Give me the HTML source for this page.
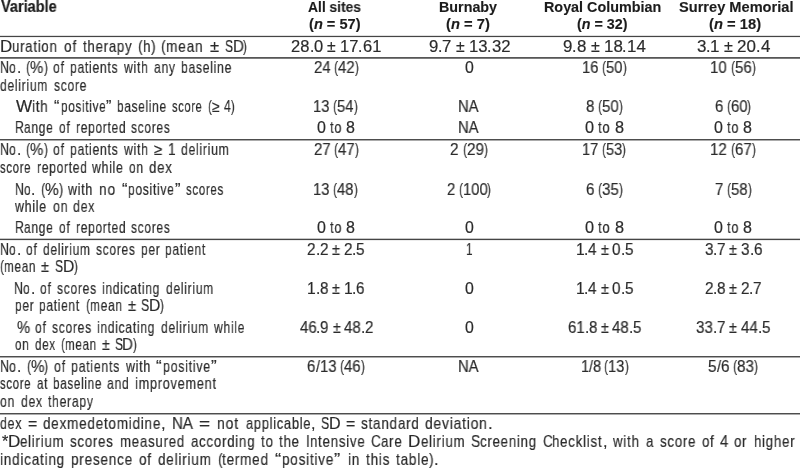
<!DOCTYPE html>
<html lang="en">
<head>
<meta charset="utf-8">
<title>Table</title>
<style>
html,body{margin:0;padding:0;background:#fff;}
body{width:800px;height:468px;position:relative;overflow:hidden;
 font-family:"Liberation Sans",sans-serif;color:#2b2b2b;}
.t{position:absolute;white-space:pre;transform-origin:0 0;line-height:1;will-change:transform;}
.b{font-size:15.7px;-webkit-text-stroke:0.18px #2b2b2b;}
.f{font-size:16.1px;-webkit-text-stroke:0.18px #2b2b2b;}
.h{font-size:13.9px;font-weight:bold;color:#1c1c1c;-webkit-text-stroke:0.12px #1c1c1c;}
.v{font-size:16.0px;font-weight:bold;color:#1c1c1c;-webkit-text-stroke:0.2px #1c1c1c;}
.r{position:absolute;left:0;width:800px;}
</style>
</head>
<body>
<svg class="r" style="top:0;height:468px" width="800" height="468" viewBox="0 0 800 468"><rect x="0" y="35.83" width="800" height="1.25" fill="#454545"/><rect x="0" y="57.10" width="800" height="1.60" fill="#454545"/><rect x="0" y="139.05" width="800" height="1.40" fill="#454545"/><rect x="0" y="238.70" width="800" height="1.40" fill="#454545"/><rect x="0" y="356.05" width="800" height="1.40" fill="#454545"/><rect x="0" y="413.05" width="800" height="1.40" fill="#454545"/></svg>
<span class="t v" style="left:0.65px;top:-0.94px;transform:scaleX(0.9071)">Variable</span>
<span class="t h" style="left:308.47px;top:0.83px;transform:scaleX(0.9937)">All sites</span>
<span class="t h" style="left:309.16px;top:18.13px;transform:scaleX(1.0513)">(<i>n</i> = 57)</span>
<span class="t h" style="left:439.30px;top:0.83px;transform:scaleX(1.0306)">Burnaby</span>
<span class="t h" style="left:446.39px;top:18.13px;transform:scaleX(1.0610)">(<i>n</i> = 7)</span>
<span class="t h" style="left:543.80px;top:0.83px;transform:scaleX(1.0331)">Royal Columbian</span>
<span class="t h" style="left:577.19px;top:18.13px;transform:scaleX(1.0303)">(<i>n</i> = 32)</span>
<span class="t h" style="left:678.75px;top:0.83px;transform:scaleX(1.0516)">Surrey Memorial</span>
<span class="t h" style="left:709.16px;top:18.13px;transform:scaleX(1.0618)">(<i>n</i> = 18)</span>
<span class="t b" style="left:-0.03px;top:38.51px;transform:scaleX(1.0810)">D</span>
<span class="t b" style="left:12.23px;top:38.51px;letter-spacing:0.92px;transform:scaleX(0.8383)">uration</span>
<span class="t b" style="left:63.67px;top:38.51px;letter-spacing:0.92px;transform:scaleX(0.8685)">of</span>
<span class="t b" style="left:82.67px;top:38.51px;letter-spacing:0.92px;transform:scaleX(0.8415)">therapy</span>
<span class="t b" style="left:137.97px;top:38.51px;transform:scaleX(0.8753)">(</span>
<span class="t b" style="left:142.55px;top:38.51px;letter-spacing:0.92px;transform:scaleX(0.8639)">h</span>
<span class="t b" style="left:150.89px;top:38.51px;transform:scaleX(0.8753)">)</span>
<span class="t b" style="left:161.47px;top:38.51px;transform:scaleX(0.8832)">(</span>
<span class="t b" style="left:166.09px;top:38.51px;letter-spacing:0.92px;transform:scaleX(0.8717)">mean</span>
<span class="t b" style="left:209.57px;top:38.51px;transform:scaleX(1.0562)">±</span>
<span class="t b" style="left:224.67px;top:38.51px;transform:scaleX(0.7611)">S</span>
<span class="t b" style="left:232.64px;top:38.51px;transform:scaleX(0.9562)">D</span>
<span class="t b" style="left:243.49px;top:38.51px;transform:scaleX(0.7513)">)</span>
<span class="t b" style="left:0.19px;top:60.41px;transform:scaleX(0.7962)">N</span>
<span class="t b" style="left:9.22px;top:60.41px;letter-spacing:0.92px;transform:scaleX(0.7758)">o</span>
<span class="t b" style="left:16.71px;top:60.41px;transform:scaleX(0.9494)">.</span>
<span class="t b" style="left:26.23px;top:60.41px;transform:scaleX(0.7860)">(</span>
<span class="t b" style="left:30.35px;top:60.41px;transform:scaleX(0.9494)">%</span>
<span class="t b" style="left:43.59px;top:60.41px;transform:scaleX(0.7860)">)</span>
<span class="t b" style="left:53.09px;top:60.41px;letter-spacing:0.92px;transform:scaleX(0.7758)">of</span>
<span class="t b" style="left:70.07px;top:60.41px;letter-spacing:0.92px;transform:scaleX(0.7758)">patients</span>
<span class="t b" style="left:123.80px;top:60.41px;letter-spacing:0.92px;transform:scaleX(0.7758)">with</span>
<span class="t b" style="left:153.69px;top:60.41px;letter-spacing:0.92px;transform:scaleX(0.7758)">any</span>
<span class="t b" style="left:180.85px;top:60.41px;letter-spacing:0.92px;transform:scaleX(0.7758)">baseline</span>
<span class="t b" style="left:0.37px;top:77.71px;letter-spacing:0.92px;transform:scaleX(0.7713)">delirium</span>
<span class="t b" style="left:53.76px;top:77.71px;letter-spacing:0.92px;transform:scaleX(0.7713)">score</span>
<span class="t b" style="left:15.83px;top:98.51px;transform:scaleX(1.0911)">W</span>
<span class="t b" style="left:31.99px;top:98.51px;letter-spacing:0.92px;transform:scaleX(0.8461)">ith</span>
<span class="t b" style="left:54.23px;top:98.51px;letter-spacing:0.86px;transform:scaleX(1.0336)">“</span>
<span class="t b" style="left:60.52px;top:98.51px;letter-spacing:0.92px;transform:scaleX(0.7481)">positive</span>
<span class="t b" style="left:105.84px;top:98.51px;letter-spacing:0.86px;transform:scaleX(1.0336)">”</span>
<span class="t b" style="left:117.33px;top:98.51px;letter-spacing:0.92px;transform:scaleX(0.7561)">baseline</span>
<span class="t b" style="left:172.33px;top:98.51px;letter-spacing:0.92px;transform:scaleX(0.7091)">score</span>
<span class="t b" style="left:207.73px;top:98.51px;transform:scaleX(0.7333)">(</span>
<span class="t b" style="left:211.56px;top:98.51px;transform:scaleX(0.8856)">≥</span>
<span class="t b" style="left:224.23px;top:98.51px;transform:scaleX(0.7775)">4</span>
<span class="t b" style="left:231.02px;top:98.51px;transform:scaleX(0.6985)">)</span>
<span class="t b" style="left:15.18px;top:120.01px;transform:scaleX(0.7838)">R</span>
<span class="t b" style="left:24.08px;top:120.01px;letter-spacing:0.92px;transform:scaleX(0.7637)">ange</span>
<span class="t b" style="left:58.85px;top:120.01px;letter-spacing:0.92px;transform:scaleX(0.7637)">of</span>
<span class="t b" style="left:75.56px;top:120.01px;letter-spacing:0.92px;transform:scaleX(0.7637)">reported</span>
<span class="t b" style="left:131.12px;top:120.01px;letter-spacing:0.92px;transform:scaleX(0.7637)">scores</span>
<span class="t b" style="left:0.19px;top:142.41px;transform:scaleX(0.7983)">N</span>
<span class="t b" style="left:9.24px;top:142.41px;letter-spacing:0.92px;transform:scaleX(0.7778)">o</span>
<span class="t b" style="left:16.75px;top:142.41px;transform:scaleX(0.9518)">.</span>
<span class="t b" style="left:26.30px;top:142.41px;transform:scaleX(0.7880)">(</span>
<span class="t b" style="left:30.42px;top:142.41px;transform:scaleX(0.9518)">%</span>
<span class="t b" style="left:43.70px;top:142.41px;transform:scaleX(0.7880)">)</span>
<span class="t b" style="left:53.23px;top:142.41px;letter-spacing:0.92px;transform:scaleX(0.7778)">of</span>
<span class="t b" style="left:70.24px;top:142.41px;letter-spacing:0.92px;transform:scaleX(0.7778)">patients</span>
<span class="t b" style="left:124.11px;top:142.41px;letter-spacing:0.92px;transform:scaleX(0.7778)">with</span>
<span class="t b" style="left:154.08px;top:142.41px;transform:scaleX(0.9518)">≥</span>
<span class="t b" style="left:167.69px;top:142.41px;transform:scaleX(0.8771)">1</span>
<span class="t b" style="left:180.75px;top:142.41px;letter-spacing:0.92px;transform:scaleX(0.7778)">delirium</span>
<span class="t b" style="left:0.32px;top:159.61px;letter-spacing:0.92px;transform:scaleX(0.7251)">score</span>
<span class="t b" style="left:36.52px;top:159.61px;letter-spacing:0.92px;transform:scaleX(0.7684)">reported</span>
<span class="t b" style="left:92.42px;top:159.61px;letter-spacing:0.92px;transform:scaleX(0.7802)">while</span>
<span class="t b" style="left:129.32px;top:159.61px;letter-spacing:0.92px;transform:scaleX(0.7623)">on</span>
<span class="t b" style="left:149.32px;top:159.61px;letter-spacing:0.92px;transform:scaleX(0.8434)">dex</span>
<span class="t b" style="left:14.95px;top:181.81px;transform:scaleX(0.7826)">N</span>
<span class="t b" style="left:23.83px;top:181.81px;letter-spacing:0.92px;transform:scaleX(0.7625)">o</span>
<span class="t b" style="left:31.19px;top:181.81px;transform:scaleX(0.9331)">.</span>
<span class="t b" style="left:40.55px;top:181.81px;transform:scaleX(0.8135)">(</span>
<span class="t b" style="left:44.81px;top:181.81px;transform:scaleX(0.9826)">%</span>
<span class="t b" style="left:58.52px;top:181.81px;transform:scaleX(0.8135)">)</span>
<span class="t b" style="left:68.35px;top:181.81px;letter-spacing:0.92px;transform:scaleX(0.7890)">with</span>
<span class="t b" style="left:98.75px;top:181.81px;letter-spacing:0.92px;transform:scaleX(0.8729)">no</span>
<span class="t b" style="left:121.65px;top:181.81px;letter-spacing:0.86px;transform:scaleX(1.0598)">“</span>
<span class="t b" style="left:128.11px;top:181.81px;letter-spacing:0.92px;transform:scaleX(0.7671)">positive</span>
<span class="t b" style="left:174.57px;top:181.81px;letter-spacing:0.86px;transform:scaleX(1.0598)">”</span>
<span class="t b" style="left:186.35px;top:181.81px;letter-spacing:0.92px;transform:scaleX(0.7324)">scores</span>
<span class="t b" style="left:15.40px;top:198.91px;letter-spacing:0.92px;transform:scaleX(0.7882)">while</span>
<span class="t b" style="left:52.67px;top:198.91px;letter-spacing:0.92px;transform:scaleX(0.7882)">on</span>
<span class="t b" style="left:73.35px;top:198.91px;letter-spacing:0.92px;transform:scaleX(0.7882)">dex</span>
<span class="t b" style="left:15.18px;top:220.31px;transform:scaleX(0.7838)">R</span>
<span class="t b" style="left:24.08px;top:220.31px;letter-spacing:0.92px;transform:scaleX(0.7637)">ange</span>
<span class="t b" style="left:58.85px;top:220.31px;letter-spacing:0.92px;transform:scaleX(0.7637)">of</span>
<span class="t b" style="left:75.56px;top:220.31px;letter-spacing:0.92px;transform:scaleX(0.7637)">reported</span>
<span class="t b" style="left:131.12px;top:220.31px;letter-spacing:0.92px;transform:scaleX(0.7637)">scores</span>
<span class="t b" style="left:0.19px;top:242.01px;transform:scaleX(0.7859)">N</span>
<span class="t b" style="left:9.11px;top:242.01px;letter-spacing:0.92px;transform:scaleX(0.7657)">o</span>
<span class="t b" style="left:16.50px;top:242.01px;transform:scaleX(0.9370)">.</span>
<span class="t b" style="left:25.90px;top:242.01px;letter-spacing:0.92px;transform:scaleX(0.7657)">of</span>
<span class="t b" style="left:42.65px;top:242.01px;letter-spacing:0.92px;transform:scaleX(0.7657)">delirium</span>
<span class="t b" style="left:95.66px;top:242.01px;letter-spacing:0.92px;transform:scaleX(0.7657)">scores</span>
<span class="t b" style="left:140.60px;top:242.01px;letter-spacing:0.92px;transform:scaleX(0.7657)">per</span>
<span class="t b" style="left:165.40px;top:242.01px;letter-spacing:0.92px;transform:scaleX(0.7657)">patient</span>
<span class="t b" style="left:0.05px;top:259.31px;transform:scaleX(0.7592)">(</span>
<span class="t b" style="left:4.03px;top:259.31px;letter-spacing:0.92px;transform:scaleX(0.7494)">mean</span>
<span class="t b" style="left:41.40px;top:259.31px;transform:scaleX(0.9170)">±</span>
<span class="t b" style="left:54.51px;top:259.31px;transform:scaleX(0.7691)">S</span>
<span class="t b" style="left:62.57px;top:259.31px;transform:scaleX(0.9663)">D</span>
<span class="t b" style="left:73.53px;top:259.31px;transform:scaleX(0.7592)">)</span>
<span class="t b" style="left:14.45px;top:280.71px;transform:scaleX(0.7900)">N</span>
<span class="t b" style="left:23.42px;top:280.71px;letter-spacing:0.92px;transform:scaleX(0.7697)">o</span>
<span class="t b" style="left:30.85px;top:280.71px;transform:scaleX(0.9419)">.</span>
<span class="t b" style="left:40.30px;top:280.71px;letter-spacing:0.92px;transform:scaleX(0.7697)">of</span>
<span class="t b" style="left:57.14px;top:280.71px;letter-spacing:0.92px;transform:scaleX(0.7697)">scores</span>
<span class="t b" style="left:102.31px;top:280.71px;letter-spacing:0.92px;transform:scaleX(0.7697)">indicating</span>
<span class="t b" style="left:165.76px;top:280.71px;letter-spacing:0.92px;transform:scaleX(0.7697)">delirium</span>
<span class="t b" style="left:14.57px;top:298.21px;letter-spacing:0.92px;transform:scaleX(0.7635)">per</span>
<span class="t b" style="left:39.30px;top:298.21px;letter-spacing:0.92px;transform:scaleX(0.7635)">patient</span>
<span class="t b" style="left:85.50px;top:298.21px;transform:scaleX(0.7736)">(</span>
<span class="t b" style="left:89.55px;top:298.21px;letter-spacing:0.92px;transform:scaleX(0.7635)">mean</span>
<span class="t b" style="left:127.63px;top:298.21px;transform:scaleX(0.9343)">±</span>
<span class="t b" style="left:140.98px;top:298.21px;transform:scaleX(0.7836)">S</span>
<span class="t b" style="left:149.19px;top:298.21px;transform:scaleX(0.9846)">D</span>
<span class="t b" style="left:160.36px;top:298.21px;transform:scaleX(0.7736)">)</span>
<span class="t b" style="left:16.58px;top:319.51px;transform:scaleX(0.9430)">%</span>
<span class="t b" style="left:35.09px;top:319.51px;letter-spacing:0.92px;transform:scaleX(0.7706)">of</span>
<span class="t b" style="left:51.95px;top:319.51px;letter-spacing:0.92px;transform:scaleX(0.7706)">scores</span>
<span class="t b" style="left:97.17px;top:319.51px;letter-spacing:0.92px;transform:scaleX(0.7706)">indicating</span>
<span class="t b" style="left:160.70px;top:319.51px;letter-spacing:0.92px;transform:scaleX(0.7706)">delirium</span>
<span class="t b" style="left:214.05px;top:319.51px;letter-spacing:0.92px;transform:scaleX(0.7706)">while</span>
<span class="t b" style="left:15.32px;top:336.81px;letter-spacing:0.92px;transform:scaleX(0.7406)">on</span>
<span class="t b" style="left:34.75px;top:336.81px;letter-spacing:0.92px;transform:scaleX(0.7406)">dex</span>
<span class="t b" style="left:60.68px;top:336.81px;transform:scaleX(0.7504)">(</span>
<span class="t b" style="left:64.60px;top:336.81px;letter-spacing:0.92px;transform:scaleX(0.7406)">mean</span>
<span class="t b" style="left:101.54px;top:336.81px;transform:scaleX(0.9063)">±</span>
<span class="t b" style="left:114.50px;top:336.81px;transform:scaleX(0.7601)">S</span>
<span class="t b" style="left:122.46px;top:336.81px;transform:scaleX(0.9550)">D</span>
<span class="t b" style="left:133.29px;top:336.81px;transform:scaleX(0.7504)">)</span>
<span class="t b" style="left:0.18px;top:358.81px;transform:scaleX(0.8091)">N</span>
<span class="t b" style="left:9.36px;top:358.81px;letter-spacing:0.92px;transform:scaleX(0.7884)">o</span>
<span class="t b" style="left:16.97px;top:358.81px;transform:scaleX(0.9647)">.</span>
<span class="t b" style="left:26.65px;top:358.81px;transform:scaleX(0.7987)">(</span>
<span class="t b" style="left:30.83px;top:358.81px;transform:scaleX(0.9647)">%</span>
<span class="t b" style="left:44.29px;top:358.81px;transform:scaleX(0.7987)">)</span>
<span class="t b" style="left:53.94px;top:358.81px;letter-spacing:0.92px;transform:scaleX(0.7884)">of</span>
<span class="t b" style="left:71.19px;top:358.81px;letter-spacing:0.92px;transform:scaleX(0.7884)">patients</span>
<span class="t b" style="left:125.79px;top:358.81px;letter-spacing:0.92px;transform:scaleX(0.7884)">with</span>
<span class="t b" style="left:156.17px;top:358.81px;letter-spacing:0.86px;transform:scaleX(1.0892)">“</span>
<span class="t b" style="left:162.80px;top:358.81px;letter-spacing:0.92px;transform:scaleX(0.7884)">positive</span>
<span class="t b" style="left:210.56px;top:358.81px;letter-spacing:0.86px;transform:scaleX(1.0892)">”</span>
<span class="t b" style="left:0.32px;top:376.41px;letter-spacing:0.92px;transform:scaleX(0.7261)">score</span>
<span class="t b" style="left:36.57px;top:376.41px;letter-spacing:0.92px;transform:scaleX(0.7405)">at</span>
<span class="t b" style="left:52.77px;top:376.41px;letter-spacing:0.92px;transform:scaleX(0.7451)">baseline</span>
<span class="t b" style="left:106.97px;top:376.41px;letter-spacing:0.92px;transform:scaleX(0.7787)">and</span>
<span class="t b" style="left:134.92px;top:376.41px;letter-spacing:0.92px;transform:scaleX(0.8113)">improvement</span>
<span class="t b" style="left:0.36px;top:394.11px;letter-spacing:0.92px;transform:scaleX(0.7774)">on</span>
<span class="t b" style="left:20.76px;top:394.11px;letter-spacing:0.92px;transform:scaleX(0.7774)">dex</span>
<span class="t b" style="left:47.97px;top:394.11px;letter-spacing:0.92px;transform:scaleX(0.7774)">therapy</span>
<span class="t b" style="left:291.34px;top:38.51px;transform:scaleX(1.0521)">28</span>
<span class="t b" style="left:309.70px;top:38.51px;transform:scaleX(0.9967)">.</span>
<span class="t b" style="left:314.05px;top:38.51px;transform:scaleX(1.0521)">0</span>
<span class="t b" style="left:327.34px;top:38.51px;transform:scaleX(0.9967)">±</span>
<span class="t b" style="left:340.04px;top:38.51px;transform:scaleX(1.0521)">17</span>
<span class="t b" style="left:358.40px;top:38.51px;transform:scaleX(0.9967)">.</span>
<span class="t b" style="left:362.75px;top:38.51px;transform:scaleX(1.0521)">61</span>
<span class="t b" style="left:428.67px;top:38.51px;transform:scaleX(1.0674)">9</span>
<span class="t b" style="left:437.99px;top:38.51px;transform:scaleX(1.0112)">.</span>
<span class="t b" style="left:442.40px;top:38.51px;transform:scaleX(1.0674)">7</span>
<span class="t b" style="left:455.88px;top:38.51px;transform:scaleX(1.0112)">±</span>
<span class="t b" style="left:468.77px;top:38.51px;transform:scaleX(1.0674)">13</span>
<span class="t b" style="left:487.40px;top:38.51px;transform:scaleX(1.0112)">.</span>
<span class="t b" style="left:491.81px;top:38.51px;transform:scaleX(1.0674)">32</span>
<span class="t b" style="left:563.09px;top:38.51px;transform:scaleX(1.0757)">9</span>
<span class="t b" style="left:572.49px;top:38.51px;transform:scaleX(1.0191)">.</span>
<span class="t b" style="left:576.93px;top:38.51px;transform:scaleX(1.0757)">8</span>
<span class="t b" style="left:590.52px;top:38.51px;transform:scaleX(1.0191)">±</span>
<span class="t b" style="left:603.51px;top:38.51px;transform:scaleX(1.0757)">18</span>
<span class="t b" style="left:622.28px;top:38.51px;transform:scaleX(1.0191)">.</span>
<span class="t b" style="left:626.72px;top:38.51px;transform:scaleX(1.0757)">14</span>
<span class="t b" style="left:696.56px;top:38.51px;transform:scaleX(1.0832)">3</span>
<span class="t b" style="left:706.02px;top:38.51px;transform:scaleX(1.0262)">.</span>
<span class="t b" style="left:710.49px;top:38.51px;transform:scaleX(1.0832)">1</span>
<span class="t b" style="left:724.18px;top:38.51px;transform:scaleX(1.0262)">±</span>
<span class="t b" style="left:737.25px;top:38.51px;transform:scaleX(1.0832)">20</span>
<span class="t b" style="left:756.16px;top:38.51px;transform:scaleX(1.0262)">.</span>
<span class="t b" style="left:760.63px;top:38.51px;transform:scaleX(1.0832)">4</span>
<span class="t b" style="left:313.51px;top:60.41px;transform:scaleX(0.9529)">24</span>
<span class="t b" style="left:333.86px;top:60.41px;transform:scaleX(0.7724)">(</span>
<span class="t b" style="left:337.90px;top:60.41px;transform:scaleX(0.9529)">42</span>
<span class="t b" style="left:354.54px;top:60.41px;transform:scaleX(0.7724)">)</span>
<span class="t b" style="left:465.03px;top:60.41px;transform:scaleX(1.0116)">0</span>
<span class="t b" style="left:582.19px;top:60.41px;transform:scaleX(0.9425)">16</span>
<span class="t b" style="left:602.31px;top:60.41px;transform:scaleX(0.7639)">(</span>
<span class="t b" style="left:606.31px;top:60.41px;transform:scaleX(0.9425)">50</span>
<span class="t b" style="left:622.76px;top:60.41px;transform:scaleX(0.7639)">)</span>
<span class="t b" style="left:710.47px;top:60.41px;transform:scaleX(0.9581)">10</span>
<span class="t b" style="left:730.93px;top:60.41px;transform:scaleX(0.7765)">(</span>
<span class="t b" style="left:734.99px;top:60.41px;transform:scaleX(0.9581)">56</span>
<span class="t b" style="left:751.71px;top:60.41px;transform:scaleX(0.7765)">)</span>
<span class="t b" style="left:313.23px;top:98.51px;transform:scaleX(0.9422)">13</span>
<span class="t b" style="left:333.35px;top:98.51px;transform:scaleX(0.7637)">(</span>
<span class="t b" style="left:337.34px;top:98.51px;transform:scaleX(0.9422)">54</span>
<span class="t b" style="left:353.79px;top:98.51px;transform:scaleX(0.7637)">)</span>
<span class="t b" style="left:458.46px;top:98.51px;transform:scaleX(0.9445)">NA</span>
<span class="t b" style="left:585.96px;top:98.51px;transform:scaleX(0.9592)">8</span>
<span class="t b" style="left:598.08px;top:98.51px;transform:scaleX(0.7774)">(</span>
<span class="t b" style="left:602.14px;top:98.51px;transform:scaleX(0.9592)">50</span>
<span class="t b" style="left:618.89px;top:98.51px;transform:scaleX(0.7774)">)</span>
<span class="t b" style="left:714.72px;top:98.51px;transform:scaleX(0.9504)">6</span>
<span class="t b" style="left:726.73px;top:98.51px;transform:scaleX(0.7703)">(</span>
<span class="t b" style="left:730.76px;top:98.51px;transform:scaleX(0.9504)">60</span>
<span class="t b" style="left:747.35px;top:98.51px;transform:scaleX(0.7703)">)</span>
<span class="t b" style="left:317.27px;top:120.01px;transform:scaleX(1.0202)">0</span>
<span class="t b" style="left:330.16px;top:120.01px;letter-spacing:0.92px;transform:scaleX(0.8162)">to</span>
<span class="t b" style="left:346.33px;top:120.01px;transform:scaleX(1.0202)">8</span>
<span class="t b" style="left:458.46px;top:120.01px;transform:scaleX(0.9445)">NA</span>
<span class="t b" style="left:585.30px;top:120.01px;transform:scaleX(1.0383)">0</span>
<span class="t b" style="left:598.42px;top:120.01px;letter-spacing:0.92px;transform:scaleX(0.8306)">to</span>
<span class="t b" style="left:614.87px;top:120.01px;transform:scaleX(1.0383)">8</span>
<span class="t b" style="left:714.28px;top:120.01px;transform:scaleX(1.0191)">0</span>
<span class="t b" style="left:727.15px;top:120.01px;letter-spacing:0.92px;transform:scaleX(0.8153)">to</span>
<span class="t b" style="left:743.30px;top:120.01px;transform:scaleX(1.0191)">8</span>
<span class="t b" style="left:313.51px;top:142.41px;transform:scaleX(0.9529)">27</span>
<span class="t b" style="left:333.86px;top:142.41px;transform:scaleX(0.7724)">(</span>
<span class="t b" style="left:337.90px;top:142.41px;transform:scaleX(0.9529)">47</span>
<span class="t b" style="left:354.54px;top:142.41px;transform:scaleX(0.7724)">)</span>
<span class="t b" style="left:450.39px;top:142.41px;transform:scaleX(0.9725)">2</span>
<span class="t b" style="left:462.68px;top:142.41px;transform:scaleX(0.7882)">(</span>
<span class="t b" style="left:466.81px;top:142.41px;transform:scaleX(0.9725)">29</span>
<span class="t b" style="left:483.78px;top:142.41px;transform:scaleX(0.7882)">)</span>
<span class="t b" style="left:582.34px;top:142.41px;transform:scaleX(0.9266)">17</span>
<span class="t b" style="left:602.12px;top:142.41px;transform:scaleX(0.7510)">(</span>
<span class="t b" style="left:606.05px;top:142.41px;transform:scaleX(0.9266)">53</span>
<span class="t b" style="left:622.22px;top:142.41px;transform:scaleX(0.7510)">)</span>
<span class="t b" style="left:710.47px;top:142.41px;transform:scaleX(0.9581)">12</span>
<span class="t b" style="left:730.93px;top:142.41px;transform:scaleX(0.7765)">(</span>
<span class="t b" style="left:734.99px;top:142.41px;transform:scaleX(0.9581)">67</span>
<span class="t b" style="left:751.71px;top:142.41px;transform:scaleX(0.7765)">)</span>
<span class="t b" style="left:313.23px;top:181.81px;transform:scaleX(0.9422)">13</span>
<span class="t b" style="left:333.35px;top:181.81px;transform:scaleX(0.7637)">(</span>
<span class="t b" style="left:337.34px;top:181.81px;transform:scaleX(0.9422)">48</span>
<span class="t b" style="left:353.79px;top:181.81px;transform:scaleX(0.7637)">)</span>
<span class="t b" style="left:446.87px;top:181.81px;transform:scaleX(0.9425)">2</span>
<span class="t b" style="left:458.78px;top:181.81px;transform:scaleX(0.7639)">(</span>
<span class="t b" style="left:462.78px;top:181.81px;transform:scaleX(0.9425)">100</span>
<span class="t b" style="left:487.46px;top:181.81px;transform:scaleX(0.7639)">)</span>
<span class="t b" style="left:585.84px;top:181.81px;transform:scaleX(0.9623)">6</span>
<span class="t b" style="left:598.00px;top:181.81px;transform:scaleX(0.7799)">(</span>
<span class="t b" style="left:602.08px;top:181.81px;transform:scaleX(0.9623)">35</span>
<span class="t b" style="left:618.88px;top:181.81px;transform:scaleX(0.7799)">)</span>
<span class="t b" style="left:715.11px;top:181.81px;transform:scaleX(0.9495)">7</span>
<span class="t b" style="left:727.11px;top:181.81px;transform:scaleX(0.7696)">(</span>
<span class="t b" style="left:731.14px;top:181.81px;transform:scaleX(0.9495)">58</span>
<span class="t b" style="left:747.71px;top:181.81px;transform:scaleX(0.7696)">)</span>
<span class="t b" style="left:317.27px;top:220.31px;transform:scaleX(1.0202)">0</span>
<span class="t b" style="left:330.16px;top:220.31px;letter-spacing:0.92px;transform:scaleX(0.8162)">to</span>
<span class="t b" style="left:346.33px;top:220.31px;transform:scaleX(1.0202)">8</span>
<span class="t b" style="left:465.03px;top:220.31px;transform:scaleX(1.0116)">0</span>
<span class="t b" style="left:585.30px;top:220.31px;transform:scaleX(1.0383)">0</span>
<span class="t b" style="left:598.42px;top:220.31px;letter-spacing:0.92px;transform:scaleX(0.8306)">to</span>
<span class="t b" style="left:614.87px;top:220.31px;transform:scaleX(1.0383)">8</span>
<span class="t b" style="left:714.28px;top:220.31px;transform:scaleX(1.0191)">0</span>
<span class="t b" style="left:727.15px;top:220.31px;letter-spacing:0.92px;transform:scaleX(0.8153)">to</span>
<span class="t b" style="left:743.30px;top:220.31px;transform:scaleX(1.0191)">8</span>
<span class="t b" style="left:307.25px;top:242.01px;transform:scaleX(0.9737)">2</span>
<span class="t b" style="left:315.76px;top:242.01px;transform:scaleX(0.9225)">.</span>
<span class="t b" style="left:319.78px;top:242.01px;transform:scaleX(0.9737)">2</span>
<span class="t b" style="left:332.08px;top:242.01px;transform:scaleX(0.9225)">±</span>
<span class="t b" style="left:343.84px;top:242.01px;transform:scaleX(0.9737)">2</span>
<span class="t b" style="left:352.34px;top:242.01px;transform:scaleX(0.9225)">.</span>
<span class="t b" style="left:356.36px;top:242.01px;transform:scaleX(0.9737)">5</span>
<span class="t b" style="left:465.58px;top:242.01px;transform:scaleX(0.7280)">1</span>
<span class="t b" style="left:575.81px;top:242.01px;transform:scaleX(0.9711)">1</span>
<span class="t b" style="left:584.30px;top:242.01px;transform:scaleX(0.9200)">.</span>
<span class="t b" style="left:588.31px;top:242.01px;transform:scaleX(0.9711)">4</span>
<span class="t b" style="left:600.58px;top:242.01px;transform:scaleX(0.9200)">±</span>
<span class="t b" style="left:612.30px;top:242.01px;transform:scaleX(0.9711)">0</span>
<span class="t b" style="left:620.78px;top:242.01px;transform:scaleX(0.9200)">.</span>
<span class="t b" style="left:624.79px;top:242.01px;transform:scaleX(0.9711)">5</span>
<span class="t b" style="left:704.70px;top:242.01px;transform:scaleX(0.9709)">3</span>
<span class="t b" style="left:713.18px;top:242.01px;transform:scaleX(0.9198)">.</span>
<span class="t b" style="left:717.19px;top:242.01px;transform:scaleX(0.9709)">7</span>
<span class="t b" style="left:729.45px;top:242.01px;transform:scaleX(0.9198)">±</span>
<span class="t b" style="left:741.17px;top:242.01px;transform:scaleX(0.9709)">3</span>
<span class="t b" style="left:749.65px;top:242.01px;transform:scaleX(0.9198)">.</span>
<span class="t b" style="left:753.66px;top:242.01px;transform:scaleX(0.9709)">6</span>
<span class="t b" style="left:307.31px;top:280.71px;transform:scaleX(0.9654)">1</span>
<span class="t b" style="left:315.75px;top:280.71px;transform:scaleX(0.9146)">.</span>
<span class="t b" style="left:319.73px;top:280.71px;transform:scaleX(0.9654)">8</span>
<span class="t b" style="left:331.93px;top:280.71px;transform:scaleX(0.9146)">±</span>
<span class="t b" style="left:343.58px;top:280.71px;transform:scaleX(0.9654)">1</span>
<span class="t b" style="left:352.02px;top:280.71px;transform:scaleX(0.9146)">.</span>
<span class="t b" style="left:356.00px;top:280.71px;transform:scaleX(0.9654)">6</span>
<span class="t b" style="left:465.03px;top:280.71px;transform:scaleX(1.0116)">0</span>
<span class="t b" style="left:575.81px;top:280.71px;transform:scaleX(0.9711)">1</span>
<span class="t b" style="left:584.30px;top:280.71px;transform:scaleX(0.9200)">.</span>
<span class="t b" style="left:588.31px;top:280.71px;transform:scaleX(0.9711)">4</span>
<span class="t b" style="left:600.58px;top:280.71px;transform:scaleX(0.9200)">±</span>
<span class="t b" style="left:612.30px;top:280.71px;transform:scaleX(0.9711)">0</span>
<span class="t b" style="left:620.78px;top:280.71px;transform:scaleX(0.9200)">.</span>
<span class="t b" style="left:624.79px;top:280.71px;transform:scaleX(0.9711)">5</span>
<span class="t b" style="left:704.51px;top:280.71px;transform:scaleX(0.9685)">2</span>
<span class="t b" style="left:712.97px;top:280.71px;transform:scaleX(0.9175)">.</span>
<span class="t b" style="left:716.97px;top:280.71px;transform:scaleX(0.9685)">8</span>
<span class="t b" style="left:729.21px;top:280.71px;transform:scaleX(0.9175)">±</span>
<span class="t b" style="left:740.90px;top:280.71px;transform:scaleX(0.9685)">2</span>
<span class="t b" style="left:749.36px;top:280.71px;transform:scaleX(0.9175)">.</span>
<span class="t b" style="left:753.36px;top:280.71px;transform:scaleX(0.9685)">7</span>
<span class="t b" style="left:299.77px;top:319.51px;transform:scaleX(0.9568)">46</span>
<span class="t b" style="left:316.47px;top:319.51px;transform:scaleX(0.9065)">.</span>
<span class="t b" style="left:320.42px;top:319.51px;transform:scaleX(0.9568)">9</span>
<span class="t b" style="left:332.51px;top:319.51px;transform:scaleX(0.9065)">±</span>
<span class="t b" style="left:344.06px;top:319.51px;transform:scaleX(0.9568)">48</span>
<span class="t b" style="left:360.76px;top:319.51px;transform:scaleX(0.9065)">.</span>
<span class="t b" style="left:364.71px;top:319.51px;transform:scaleX(0.9568)">2</span>
<span class="t b" style="left:465.03px;top:319.51px;transform:scaleX(1.0116)">0</span>
<span class="t b" style="left:567.94px;top:319.51px;transform:scaleX(0.9544)">61</span>
<span class="t b" style="left:584.60px;top:319.51px;transform:scaleX(0.9042)">.</span>
<span class="t b" style="left:588.54px;top:319.51px;transform:scaleX(0.9544)">8</span>
<span class="t b" style="left:600.60px;top:319.51px;transform:scaleX(0.9042)">±</span>
<span class="t b" style="left:612.12px;top:319.51px;transform:scaleX(0.9544)">48</span>
<span class="t b" style="left:628.78px;top:319.51px;transform:scaleX(0.9042)">.</span>
<span class="t b" style="left:632.72px;top:319.51px;transform:scaleX(0.9544)">5</span>
<span class="t b" style="left:696.24px;top:319.51px;transform:scaleX(0.9630)">33</span>
<span class="t b" style="left:713.05px;top:319.51px;transform:scaleX(0.9123)">.</span>
<span class="t b" style="left:717.02px;top:319.51px;transform:scaleX(0.9630)">7</span>
<span class="t b" style="left:729.19px;top:319.51px;transform:scaleX(0.9123)">±</span>
<span class="t b" style="left:740.82px;top:319.51px;transform:scaleX(0.9630)">44</span>
<span class="t b" style="left:757.62px;top:319.51px;transform:scaleX(0.9123)">.</span>
<span class="t b" style="left:761.60px;top:319.51px;transform:scaleX(0.9630)">5</span>
<span class="t b" style="left:307.44px;top:358.81px;transform:scaleX(0.9493)">6</span>
<span class="t b" style="left:315.74px;top:358.81px;transform:scaleX(0.8994)">/</span>
<span class="t b" style="left:319.66px;top:358.81px;transform:scaleX(0.9493)">13</span>
<span class="t b" style="left:339.93px;top:358.81px;transform:scaleX(0.7695)">(</span>
<span class="t b" style="left:343.96px;top:358.81px;transform:scaleX(0.9493)">46</span>
<span class="t b" style="left:360.52px;top:358.81px;transform:scaleX(0.7695)">)</span>
<span class="t b" style="left:458.46px;top:358.81px;transform:scaleX(0.9445)">NA</span>
<span class="t b" style="left:580.58px;top:358.81px;transform:scaleX(0.9346)">1</span>
<span class="t b" style="left:588.74px;top:358.81px;transform:scaleX(0.8854)">/</span>
<span class="t b" style="left:592.60px;top:358.81px;transform:scaleX(0.9346)">8</span>
<span class="t b" style="left:604.41px;top:358.81px;transform:scaleX(0.7575)">(</span>
<span class="t b" style="left:608.37px;top:358.81px;transform:scaleX(0.9346)">13</span>
<span class="t b" style="left:624.68px;top:358.81px;transform:scaleX(0.7575)">)</span>
<span class="t b" style="left:708.45px;top:358.81px;transform:scaleX(0.9684)">5</span>
<span class="t b" style="left:716.91px;top:358.81px;transform:scaleX(0.9174)">/</span>
<span class="t b" style="left:720.91px;top:358.81px;transform:scaleX(0.9684)">6</span>
<span class="t b" style="left:733.14px;top:358.81px;transform:scaleX(0.7849)">(</span>
<span class="t b" style="left:737.25px;top:358.81px;transform:scaleX(0.9684)">83</span>
<span class="t b" style="left:754.15px;top:358.81px;transform:scaleX(0.7849)">)</span>
<span class="t f" style="left:0.36px;top:415.47px;letter-spacing:0.92px;transform:scaleX(0.7739)">dex</span>
<span class="t f" style="left:28.11px;top:415.47px;transform:scaleX(0.9842)">=</span>
<span class="t f" style="left:43.11px;top:415.47px;letter-spacing:0.92px;transform:scaleX(0.8388)">dexmedetomidine</span>
<span class="t f" style="left:161.26px;top:415.47px;transform:scaleX(1.0264)">,</span>
<span class="t f" style="left:171.86px;top:415.47px;transform:scaleX(0.9381)">NA</span>
<span class="t f" style="left:199.36px;top:415.47px;transform:scaleX(1.1810)">=</span>
<span class="t f" style="left:217.36px;top:415.47px;letter-spacing:0.92px;transform:scaleX(0.8752)">not</span>
<span class="t f" style="left:245.61px;top:415.47px;letter-spacing:0.92px;transform:scaleX(0.7989)">applicable</span>
<span class="t f" style="left:310.87px;top:415.47px;transform:scaleX(0.9776)">,</span>
<span class="t f" style="left:320.96px;top:415.47px;transform:scaleX(0.7629)">S</span>
<span class="t f" style="left:329.16px;top:415.47px;transform:scaleX(0.9585)">D</span>
<span class="t f" style="left:345.61px;top:415.47px;transform:scaleX(0.9842)">=</span>
<span class="t f" style="left:360.61px;top:415.47px;letter-spacing:0.92px;transform:scaleX(0.8393)">standard</span>
<span class="t f" style="left:425.36px;top:415.47px;letter-spacing:0.92px;transform:scaleX(0.8620)">deviation</span>
<span class="t f" style="left:488.04px;top:415.47px;transform:scaleX(1.0548)">.</span>
<span class="t f" style="left:1.54px;top:433.17px;transform:scaleX(1.0076)">*</span>
<span class="t f" style="left:7.85px;top:433.17px;transform:scaleX(1.0618)">D</span>
<span class="t f" style="left:20.20px;top:433.17px;letter-spacing:0.92px;transform:scaleX(0.8234)">elirium</span>
<span class="t f" style="left:70.42px;top:433.17px;letter-spacing:0.92px;transform:scaleX(0.8234)">scores</span>
<span class="t f" style="left:119.88px;top:433.17px;letter-spacing:0.92px;transform:scaleX(0.8234)">measured</span>
<span class="t f" style="left:190.77px;top:433.17px;letter-spacing:0.92px;transform:scaleX(0.8234)">according</span>
<span class="t f" style="left:260.95px;top:433.17px;letter-spacing:0.92px;transform:scaleX(0.8234)">to</span>
<span class="t f" style="left:279.41px;top:433.17px;letter-spacing:0.92px;transform:scaleX(0.8234)">the</span>
<span class="t f" style="left:305.98px;top:433.17px;transform:scaleX(0.8451)">I</span>
<span class="t f" style="left:309.77px;top:433.17px;letter-spacing:0.92px;transform:scaleX(0.8234)">ntensive</span>
<span class="t f" style="left:371.09px;top:433.17px;transform:scaleX(0.8451)">C</span>
<span class="t f" style="left:380.91px;top:433.17px;letter-spacing:0.92px;transform:scaleX(0.8234)">are</span>
<span class="t f" style="left:408.22px;top:433.17px;transform:scaleX(1.0618)">D</span>
<span class="t f" style="left:420.56px;top:433.17px;letter-spacing:0.92px;transform:scaleX(0.8234)">elirium</span>
<span class="t f" style="left:470.79px;top:433.17px;transform:scaleX(0.8451)">S</span>
<span class="t f" style="left:479.87px;top:433.17px;letter-spacing:0.92px;transform:scaleX(0.8234)">creening</span>
<span class="t f" style="left:542.66px;top:433.17px;transform:scaleX(0.8451)">C</span>
<span class="t f" style="left:552.49px;top:433.17px;letter-spacing:0.92px;transform:scaleX(0.8234)">hecklist</span>
<span class="t f" style="left:602.75px;top:433.17px;transform:scaleX(1.0076)">,</span>
<span class="t f" style="left:613.15px;top:433.17px;letter-spacing:0.92px;transform:scaleX(0.8234)">with</span>
<span class="t f" style="left:645.63px;top:433.17px;letter-spacing:0.92px;transform:scaleX(0.8234)">a</span>
<span class="t f" style="left:659.64px;top:433.17px;letter-spacing:0.92px;transform:scaleX(0.8234)">score</span>
<span class="t f" style="left:701.72px;top:433.17px;letter-spacing:0.92px;transform:scaleX(0.8234)">of</span>
<span class="t f" style="left:720.18px;top:433.17px;transform:scaleX(0.9285)">4</span>
<span class="t f" style="left:734.37px;top:433.17px;letter-spacing:0.92px;transform:scaleX(0.8234)">or</span>
<span class="t f" style="left:753.55px;top:433.17px;letter-spacing:0.92px;transform:scaleX(0.8234)">higher</span>
<span class="t f" style="left:0.19px;top:450.87px;letter-spacing:0.92px;transform:scaleX(0.8417)">indicating</span>
<span class="t f" style="left:71.19px;top:450.87px;letter-spacing:0.92px;transform:scaleX(0.8417)">presence</span>
<span class="t f" style="left:139.14px;top:450.87px;letter-spacing:0.92px;transform:scaleX(0.8417)">of</span>
<span class="t f" style="left:158.01px;top:450.87px;letter-spacing:0.92px;transform:scaleX(0.8417)">delirium</span>
<span class="t f" style="left:217.66px;top:450.87px;transform:scaleX(0.8528)">(</span>
<span class="t f" style="left:222.23px;top:450.87px;letter-spacing:0.92px;transform:scaleX(0.8417)">termed</span>
<span class="t f" style="left:275.06px;top:450.87px;letter-spacing:0.86px;transform:scaleX(1.1629)">“</span>
<span class="t f" style="left:282.29px;top:450.87px;letter-spacing:0.92px;transform:scaleX(0.8417)">positive</span>
<span class="t f" style="left:334.43px;top:450.87px;letter-spacing:0.86px;transform:scaleX(1.1629)">”</span>
<span class="t f" style="left:347.67px;top:450.87px;letter-spacing:0.92px;transform:scaleX(0.8417)">in</span>
<span class="t f" style="left:365.78px;top:450.87px;letter-spacing:0.92px;transform:scaleX(0.8417)">this</span>
<span class="t f" style="left:395.97px;top:450.87px;letter-spacing:0.92px;transform:scaleX(0.8417)">table</span>
<span class="t f" style="left:429.23px;top:450.87px;transform:scaleX(0.8528)">)</span>
<span class="t f" style="left:433.80px;top:450.87px;transform:scaleX(1.0300)">.</span>
</body>
</html>
